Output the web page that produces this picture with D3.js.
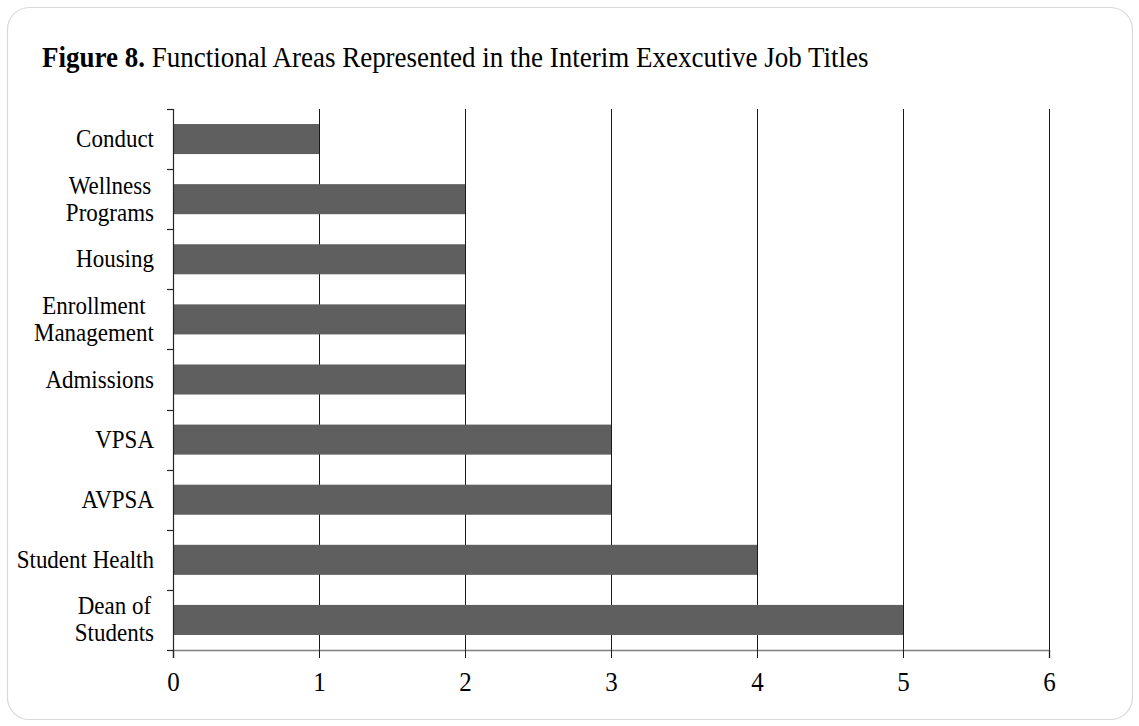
<!DOCTYPE html>
<html>
<head>
<meta charset="utf-8">
<script src="https://cdn.jsdelivr.net/npm/d3@7"></script>
<style>
  html, body { margin: 0; padding: 0; background: #fff; }
  svg { display: block; }
  text { font-family: "Liberation Serif", "Times New Roman", serif; fill: #000; }
</style>
</head>
<body>
<svg id="chart" width="1139" height="726"></svg>
<script>
// Functional areas, listed top to bottom, with their counts
const categories = [
  "Conduct",
  "Wellness\nPrograms",
  "Housing",
  "Enrollment\nManagement",
  "Admissions",
  "VPSA",
  "AVPSA",
  "Student Health",
  "Dean of\nStudents"
];
const counts = [1, 2, 2, 2, 2, 3, 3, 4, 5];
const xTicks = [0, 1, 2, 3, 4, 5, 6];

const svg = d3.select("#chart");
const stretch = 1.1; // glyphs are drawn slightly tall

// Rounded outer frame
svg.append("rect")
  .attr("x", 7.5).attr("y", 7.5)
  .attr("width", 1125).attr("height", 712)
  .attr("rx", 22).attr("ry", 22)
  .attr("fill", "#fff")
  .attr("stroke", "#d9d9d9")
  .attr("stroke-width", 1.2);

// Title: bold figure number followed by regular caption
const title = svg.append("text")
  .attr("transform", `translate(42,66.5) scale(1,${stretch})`)
  .style("font-size", "27px");
title.append("tspan").style("font-weight", "bold").text("Figure 8.");
title.append("tspan").text(" Functional Areas Represented in the Interim Exexcutive Job Titles");

const plot = { left: 173, right: 1049, top: 109, bottom: 650 };

const x = d3.scaleLinear().domain([0, 6]).range([plot.left, plot.right]);
const y = d3.scaleBand().domain(categories).range([plot.top, plot.bottom]).paddingInner(0.5).paddingOuter(0.25);
const yBand = d3.scaleBand().domain(categories).range([plot.top, plot.bottom]);

// Vertical gridlines at each major unit
svg.append("g")
  .selectAll("line")
  .data(xTicks.filter(d => d > 0))
  .join("line")
  .attr("x1", d => Math.round(x(d)) + 0.5).attr("x2", d => Math.round(x(d)) + 0.5)
  .attr("y1", plot.top).attr("y2", plot.bottom)
  .attr("stroke", "#1a1a1a").attr("stroke-width", 1);

// Bars
svg.append("g")
  .selectAll("rect")
  .data(categories.map((c, i) => ({ c, v: counts[i] })))
  .join("rect")
  .attr("x", x(0))
  .attr("y", d => y(d.c))
  .attr("width", d => x(d.v) - x(0))
  .attr("height", y.bandwidth())
  .attr("fill", "#5f5f5f");

// X axis
const xAxis = svg.append("g")
  .attr("transform", `translate(0,${plot.bottom})`)
  .call(d3.axisBottom(x).tickValues(xTicks).tickSize(8).tickFormat(d3.format("d")));
xAxis.select(".domain").attr("stroke", "#7f7f7f").attr("stroke-width", 1.5);
xAxis.selectAll(".tick line").attr("stroke", "#1a1a1a");
xAxis.selectAll(".tick text")
  .attr("y", null).attr("dy", null)
  .attr("transform", `translate(0,41) scale(1,${stretch})`)
  .style("font-family", "'Liberation Serif', 'Times New Roman', serif")
  .style("font-size", "25px").attr("fill", "#000");

// Y axis line and tick marks at the band boundaries
const yg = svg.append("g");
yg.append("line")
  .attr("x1", plot.left + 0.5).attr("x2", plot.left + 0.5)
  .attr("y1", plot.top).attr("y2", plot.bottom + 8)
  .attr("stroke", "#262626").attr("stroke-width", 1.2);
const bounds = categories.map(c => yBand(c)).concat([plot.bottom]);
yg.selectAll("line.tk")
  .data(bounds)
  .join("line")
  .attr("class", "tk")
  .attr("x1", plot.left - 6).attr("x2", plot.left)
  .attr("y1", d => Math.round(d) + 0.5).attr("y2", d => Math.round(d) + 0.5)
  .attr("stroke", "#262626").attr("stroke-width", 1.2);

// Category labels, lines centered within a right-aligned block
const labelRight = 154;
const lineH = 27;
categories.forEach(c => {
  const lines = c.split("\n");
  const cy = yBand(c) + yBand.bandwidth() / 2;
  const g = svg.append("g");
  const texts = lines.map((ln, i) =>
    g.append("text")
      .style("font-size", "23px")
      .attr("text-anchor", "middle")
      .datum(cy + (i - (lines.length - 1) / 2) * lineH + 8)
      .text(ln));
  const maxW = d3.max(texts, t => t.node().getComputedTextLength());
  texts.forEach(t => t.attr("transform", d => `translate(${labelRight - maxW / 2},${d}) scale(1,${stretch})`));
});
</script>
</body>
</html>
